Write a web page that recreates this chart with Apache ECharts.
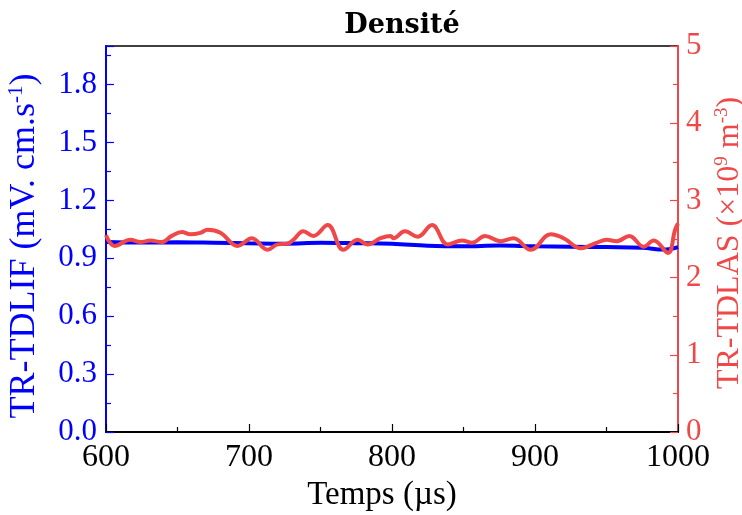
<!DOCTYPE html>
<html>
<head>
<meta charset="utf-8">
<script src="https://cdn.jsdelivr.net/npm/echarts@6/dist/echarts.min.js"></script>
<style>html,body{margin:0;padding:0;background:#fff;overflow:hidden}#c{width:742px;height:515px}</style>
</head>
<body>
<div id="c"></div>
<script>
// Time axis (µs)
const xTicks = [600, 700, 800, 900, 1000];
// TR-TDLIF (left axis, mV.cm.s-1)
const lifTime = [600, 625, 650, 675, 700, 725, 750, 775, 800, 825, 850, 875, 900, 925, 950, 975, 990, 1000];
const lifValues = [0.985, 0.982, 0.983, 0.981, 0.978, 0.976, 0.980, 0.978, 0.975, 0.965, 0.962, 0.966, 0.962, 0.960, 0.958, 0.955, 0.945, 0.958];
// TR-TDLAS (right axis, x10^9 m-3)
const lasTime = [600, 606, 617, 624, 631, 639, 646, 653, 659, 666, 671, 680, 692, 702, 713, 720, 727, 731, 738, 745, 755, 766, 776, 783, 792, 799, 801, 809, 818, 828, 839, 849, 856, 865, 876, 885, 897, 911, 920, 932, 943, 950, 957, 966, 976, 983, 993, 998, 1000];
const lasValues = [2.55, 2.41, 2.49, 2.46, 2.48, 2.46, 2.54, 2.59, 2.56, 2.58, 2.62, 2.58, 2.41, 2.51, 2.36, 2.43, 2.44, 2.49, 2.60, 2.54, 2.68, 2.36, 2.49, 2.43, 2.51, 2.54, 2.51, 2.60, 2.53, 2.68, 2.43, 2.48, 2.45, 2.54, 2.47, 2.51, 2.36, 2.56, 2.51, 2.38, 2.45, 2.49, 2.47, 2.54, 2.40, 2.48, 2.32, 2.62, 2.70];

const BLUE = '#0000ff';
const RED = '#f04848';
const FONT = 'Liberation Serif';

const lifData = lifTime.map((t, i) => [t, lifValues[i]]);
const lasData = lasTime.map((t, i) => [t, lasValues[i]]);

const chart = echarts.init(document.getElementById('c'), null, {renderer: 'canvas'});
chart.setOption({
  animation: false,
  backgroundColor: '#fff',
  title: {
    text: 'Densité',
    left: 397, textAlign: 'center', top: 7,
    textStyle: {fontFamily: 'DejaVu Serif', fontWeight: 'bold', fontSize: 27, color: '#000'}
  },
  grid: {left: 106, right: 64, top: 46, bottom: 83, show: true, borderColor: '#000', borderWidth: 1.5,
    backgroundColor: 'transparent', containLabel: false, outerBoundsMode: 'none'},
  xAxis: {
    type: 'value', min: 600, max: 1000, interval: 100,
    name: 'Temps (µs)', nameLocation: 'middle', nameGap: 44,
    nameTextStyle: {fontFamily: FONT, fontSize: 33, color: '#000', padding: [0, 20, 0, 0]},
    axisLine: {show: true, lineStyle: {color: '#000', width: 2}},
    axisTick: {show: true, inside: true, length: 8, lineStyle: {color: '#000', width: 1.2}},
    minorTick: {show: true, splitNumber: 2, length: 5, lineStyle: {color: '#000', width: 1.2}},
    axisLabel: {fontFamily: FONT, fontSize: 32, color: '#000', margin: 10,
      formatter: v => xTicks.includes(v) ? String(v) : ''},
    splitLine: {show: false}
  },
  yAxis: [{
    type: 'value', min: 0, max: 2.0, interval: 0.3, position: 'left',
    name: 'TR-TDLIF (mV. cm.s{sup|-1})', nameLocation: 'middle', nameGap: 62,
    nameTextStyle: {fontFamily: FONT, fontSize: 36, color: BLUE, lineHeight: 38, padding: [0, 14, 0, 0],
      rich: {sup: {fontFamily: FONT, fontSize: 21, color: BLUE, verticalAlign: 'top', lineHeight: 18}}},
    axisLine: {show: true, lineStyle: {color: BLUE, width: 2}},
    axisTick: {show: true, inside: true, length: 8, lineStyle: {color: BLUE, width: 1.2}},
    minorTick: {show: true, splitNumber: 2, length: 5, lineStyle: {color: BLUE, width: 1.2}},
    axisLabel: {fontFamily: FONT, fontSize: 31, color: BLUE, margin: 9, showMaxLabel: false,
      formatter: v => v.toFixed(1)},
    splitLine: {show: false}
  }, {
    type: 'value', min: 0, max: 5, interval: 1, position: 'right',
    name: 'TR-TDLAS (×10{sup|9} m{sup|-3})', nameLocation: 'middle', nameGap: 35,
    nameTextStyle: {fontFamily: FONT, fontSize: 32, color: RED, lineHeight: 34, padding: [0, 8, 0, 0],
      rich: {sup: {fontFamily: FONT, fontSize: 19, color: RED, verticalAlign: 'top', lineHeight: 16}}},
    axisLine: {show: true, lineStyle: {color: RED, width: 2}},
    axisTick: {show: true, inside: true, length: 8, lineStyle: {color: RED, width: 1.2}},
    minorTick: {show: true, splitNumber: 2, length: 5, lineStyle: {color: RED, width: 1.2}},
    axisLabel: {fontFamily: FONT, fontSize: 31, color: RED, margin: 8},
    splitLine: {show: false}
  }],
  series: [{
    type: 'line', yAxisIndex: 0, data: lifData, smooth: 0.4, showSymbol: false,
    lineStyle: {color: BLUE, width: 4}, z: 2
  }, {
    type: 'line', yAxisIndex: 1, data: lasData, smooth: 0.4, showSymbol: false,
    lineStyle: {color: RED, width: 4}, z: 3
  }]
});
</script>
</body>
</html>
